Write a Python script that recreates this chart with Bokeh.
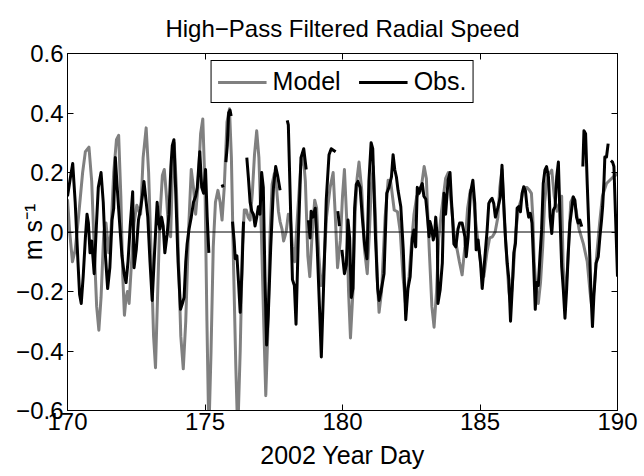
from bokeh.plotting import figure
from bokeh.models import Range1d, FixedTicker, LinearAxis, Span, Legend, LegendItem
from bokeh.embed import file_html
from bokeh.resources import INLINE

NaN = float("nan")

title_text = "High−Pass Filtered Radial Speed"
x_label = "2002 Year Day"
y_label = "m s⁻¹"
x_ticks = [170, 175, 180, 185, 190]
y_ticks = [-0.6, -0.4, -0.2, 0, 0.2, 0.4, 0.6]
y_tick_labels = ["−0.6", "−0.4", "−0.2", "0", "0.2", "0.4", "0.6"]
series_names = ["Model", "Obs."]

model_day = [
    170.00, 170.08, 170.18, 170.28, 170.40, 170.55, 170.65, 170.78, 170.88, 170.97,
    171.06, 171.14, 171.22, 171.32, 171.40, 171.50, 171.58, 171.68, 171.78, 171.86,
    171.94, 172.01, 172.07, 172.13, 172.18, 172.24, 172.33, 172.42, 172.52, 172.60,
    172.66, 172.75, 172.86, 172.95, 173.05, 173.13, 173.20, 173.28, 173.36, 173.45,
    173.52, 173.60, 173.68, 173.75, 173.80, 173.88, 173.96, 174.04, 174.12, 174.21,
    174.30, 174.40, 174.50, 174.58, 174.66, 174.74, 174.84, 174.92, 175.00, 175.07,
    175.14, 175.22, 175.30, 175.38, 175.47, 175.55, 175.62, 175.70, 175.80, 175.89,
    175.96, 176.03, 176.12, 176.19, 176.28, 176.36, 176.43, 176.50, 176.57, 176.64,
    176.72, 176.80, 176.88, 176.96, 177.05, 177.14, 177.21, 177.28, 177.36, 177.44,
    177.52, 177.60, 177.67, 177.73, 177.80, 177.86, 177.95, 178.03, 178.10, 178.18,
    178.26, 178.36, 178.48, 178.57, 178.65, 178.74, 178.81, 178.90, 178.99, 179.06,
    179.14, 179.22, 179.30, 179.42, 179.55, 179.66, 179.74, 179.82, 179.92, 180.00,
    180.07, 180.15, 180.22, 180.29, 180.38, 180.46, 180.53, 180.60, 180.70, 180.80,
    180.90, 180.98, 181.05, 181.12, 181.20, 181.26, 181.33, 181.42, 181.55, 181.66,
    181.75, 181.88, 182.00, 182.10, 182.20, 182.30, 182.42, 182.50, 182.60, 182.70,
    182.85, 182.97, 183.05, 183.15, 183.25, 183.33, 183.42, 183.50, 183.60, 183.75,
    183.85, 183.95, 184.05, 184.15, 184.25, 184.35, 184.45, 184.55, 184.65, 184.75,
    184.85, 184.95, 185.05, 185.14, 185.25, 185.35, 185.45, 185.55, 185.65, 185.72,
    185.80, 185.88, 185.98, 186.05, 186.11, 186.20, 186.30, 186.40, 186.50, 186.60,
    186.70, 186.80, 186.87, 186.92, 186.97, 187.05, 187.12, 187.20, 187.28, 187.35,
    187.45, 187.55, 187.61, 187.70, 187.80, 187.90, 187.97, 188.02, 188.09, 188.18,
    188.30, 188.39, 188.50, 188.60, 188.76, 188.90, 189.00, 189.06, 189.15, 189.25,
    189.35, 189.45, 189.60, 189.72, 189.84, 190.00,
]
model_speed = [
    0.11, 0.00, -0.10, -0.06, 0.05, 0.20, 0.27, 0.285, 0.17, -0.05,
    -0.25, -0.33, -0.22, 0.00, 0.03, -0.07, 0.00, 0.20, 0.31, 0.325,
    0.12, -0.15, -0.28, -0.22, -0.20, -0.24, -0.10, 0.03, 0.09, 0.07,
    0.06, 0.25, 0.35, 0.20, -0.10, -0.35, -0.456, -0.20, 0.05, 0.19,
    0.21, 0.12, 0.00, -0.016, 0.15, 0.30, 0.15, -0.10, -0.35, -0.46,
    -0.30, 0.00, 0.21, 0.15, 0.06, 0.15, 0.33, 0.38, 0.15, -0.30,
    -0.68, -0.40, -0.05, 0.10, 0.14, 0.10, 0.04, 0.15, 0.37, 0.414,
    0.25, -0.08, -0.45, -0.68, -0.40, -0.05, 0.074, 0.074, 0.05, 0.04,
    0.13, 0.26, 0.34, 0.25, 0.00, -0.32, -0.55, -0.35, -0.02, 0.16,
    0.196, 0.15, 0.07, 0.035, 0.01, -0.03, 0.00, 0.06, 0.05, -0.05,
    -0.10, 0.05, 0.22, 0.26, 0.17, -0.08, -0.15, 0.00, 0.107, 0.08,
    -0.08, -0.18, -0.15, 0.05, 0.15, 0.20, 0.05, -0.12, -0.03, 0.12,
    0.21, 0.05, -0.20, -0.356, -0.20, 0.06, 0.18, 0.235, 0.14, -0.06,
    -0.14, 0.00, 0.16, 0.22, 0.05, -0.15, -0.27, -0.20, 0.05, 0.174,
    0.17, 0.074, 0.068, 0.00, -0.15, -0.25, -0.15, -0.05, 0.06, 0.12,
    0.14, 0.22, 0.18, -0.05, -0.25, -0.32, -0.20, -0.02, 0.07, 0.18,
    0.20, 0.10, 0.00, -0.05, -0.10, -0.144, -0.05, 0.08, 0.14, 0.13,
    0.03, -0.05, -0.12, -0.15, -0.07, -0.02, -0.016, 0.00, 0.05, 0.15,
    0.21, 0.05, -0.10, -0.20, -0.24, -0.15, 0.00, 0.08, 0.11, 0.15,
    0.15, 0.14, 0.13, 0.05, -0.10, -0.20, -0.24, -0.17, -0.05, 0.10,
    0.19, 0.20, 0.208, 0.12, 0.07, 0.10, 0.12, -0.10, -0.24, -0.12,
    0.10, 0.118, 0.07, 0.01, -0.04, -0.10, -0.20, -0.25, -0.19, -0.07,
    0.03, 0.12, 0.163, 0.174, 0.185, 0.196,
]

obs_day = [
    170.00, 170.10, 170.19, 170.28, 170.38, 170.44, 170.50, 170.57, 170.65, 170.71,
    170.76, 170.82, 170.88, 170.97, 171.05, 171.12, 171.22, 171.30, 171.38, 171.46,
    171.54, 171.62, 171.68, 171.74, 171.80, 171.88, 171.98, 172.06, 172.13, 172.20,
    172.28, 172.37, 172.42, 172.50, 172.58, 172.66, 172.72, 172.78, 172.85, 172.92,
    173.00, 173.08, 173.17, 173.26, 173.32, 173.36, 173.42, 173.48, 173.54, 173.62,
    173.69, 173.76, 173.81, 173.87, 173.94, 174.02, 174.11, 174.18, 174.24, 174.30,
    174.35, 174.42, 174.50, 174.58, 174.66, 174.72, 174.81, 174.88, 174.95, 175.02,
    175.08, 175.14, NaN,
    175.62, 175.66, NaN,
    175.76, 175.81, 175.86, 175.91, 175.95, NaN,
    176.00, 176.06, 176.10, 176.16, 176.22, 176.28, 176.34, 176.40, NaN,
    176.52, 176.58, 176.64, 176.70, 176.76, 176.82, 176.88, 176.94, 177.00, 177.06,
    177.12, 177.18, 177.24, 177.30, 177.39, 177.49, 177.57, 177.64, 177.73, NaN,
    177.99, 178.03, 178.07, 178.13, 178.18, 178.25, 178.31, 178.39, 178.49, 178.59,
    178.68, NaN,
    178.76, 178.82, 178.86, 178.92, 179.01, 179.08, 179.17, 179.23, 179.31, 179.41,
    179.51, 179.59, 179.67, 179.75, NaN,
    179.83, 179.89, NaN,
    179.98, 180.07, 180.14, 180.20, 180.26, 180.32, 180.38, 180.44, 180.50, 180.56,
    180.64, 180.72, 180.80, 180.89, 180.96, 181.04, 181.10, 181.20, 181.28, 181.33,
    181.40, 181.51, 181.61, 181.69, 181.78, 181.84, 181.90, 181.96, 182.02, 182.12,
    182.21, 182.30, 182.38, 182.46, 182.54, 182.60, 182.66, 182.72, 182.78, 182.84,
    182.90, 182.96, 183.03, 183.09, 183.15, 183.18, 183.23, 183.30, 183.35, 183.39,
    183.45, 183.47, 183.55, 183.63, 183.69, 183.75, 183.84, 183.91, 183.96, 184.00,
    184.05, 184.12, 184.20, 184.26, 184.35, 184.45, 184.50, 184.57, 184.65, 184.74,
    184.81, 184.86, 184.93, 185.02, 185.08, 185.14, 185.20, 185.26, 185.32, 185.38,
    185.44, 185.50, 185.56, 185.66, 185.74, 185.80, 185.87, 185.93, 185.99, 186.05,
    186.11, 186.17, 186.23, 186.29, 186.35, 186.41, 186.47, 186.53, 186.59, 186.65,
    186.71, 186.77, 186.83, 186.89, 186.94, 187.01, 187.06, 187.12, 187.18, 187.24,
    187.30, 187.36, 187.42, 187.49, 187.55, 187.61, 187.67, 187.73, 187.79, 187.85,
    187.91, 187.97, 188.03, 188.09, 188.15, 188.21, 188.27, 188.33, 188.39, 188.45,
    188.51, 188.57, 188.63, 188.70, NaN,
    188.74, 188.78, 188.84, 188.90, 188.97, 189.03, 189.09, 189.14, 189.22, 189.30,
    189.36, 189.42, 189.46, 189.51, 189.54, 189.60, 189.66, NaN,
    189.76, 189.82, 189.87, 189.93, 190.00,
]
obs_speed = [
    0.12, 0.18, 0.23, 0.10, -0.10, -0.21, -0.24, -0.15, -0.02, 0.06,
    0.03, -0.07, -0.03, -0.14, 0.02, 0.15, 0.20, 0.10, -0.08, -0.19,
    -0.12, 0.04, 0.08, 0.25, 0.16, 0.05, -0.08, -0.14, -0.17, -0.10,
    0.02, 0.135, -0.12, -0.06, 0.04, 0.08, 0.12, 0.17, 0.11, 0.05,
    -0.10, -0.23, -0.06, 0.10, 0.03, 0.01, 0.05, 0.02, -0.07, -0.01,
    0.06, 0.22, 0.29, 0.31, 0.12, -0.10, -0.26, -0.24, -0.22, -0.10,
    -0.04, 0.01, 0.05, 0.10, 0.12, 0.15, 0.27, 0.15, 0.13, 0.21,
    0.05, -0.07, NaN,
    0.16, 0.15, NaN,
    0.235, 0.29, 0.40, 0.41, 0.39, NaN,
    0.035, -0.03, -0.09, -0.08, -0.17, -0.27, -0.14, 0.035, NaN,
    0.25, 0.18, 0.10, 0.07, 0.06, 0.02, 0.05, 0.085, 0.06, 0.20,
    0.15, -0.15, -0.38, -0.28, -0.05, 0.15, 0.22, 0.19, 0.14, NaN,
    0.375, 0.36, 0.22, 0.01, -0.16, -0.18, -0.31, -0.03, 0.25, 0.28,
    0.21, NaN,
    0.04, -0.02, 0.07, 0.05, 0.08, -0.05, -0.27, -0.42, -0.19, 0.11,
    0.26, 0.28, 0.275, 0.27, NaN,
    0.07, 0.02, NaN,
    -0.06, -0.14, -0.11, 0.04, -0.02, -0.22, -0.19, 0.08, 0.16, 0.17,
    0.15, 0.05, -0.04, -0.09, 0.17, 0.30, 0.28, -0.02, -0.19, -0.23,
    -0.20, -0.14, 0.13, 0.15, 0.185, 0.26, 0.21, 0.185, 0.14, 0.085,
    -0.06, -0.295, -0.19, -0.15, -0.02, 0.007, -0.05, 0.15, 0.13, 0.15,
    0.163, 0.12, 0.11, 0.05, -0.016, 0.035, 0.018, -0.027, -0.005, 0.05,
    -0.027, -0.24, -0.195, -0.105, 0.13, 0.06, 0.174, 0.20, 0.107, 0.05,
    -0.04, -0.05, 0.01, 0.03, 0.03, -0.016, -0.083, -0.016, 0.13, 0.174,
    0.096, -0.06, -0.027, -0.105, -0.19, -0.127, -0.06, 0.007, 0.096, 0.107,
    0.113, 0.096, 0.05, 0.085, 0.118, 0.224, 0.085, -0.027, -0.105, -0.16,
    -0.30, -0.194, -0.07, -0.038, 0.08, 0.085, 0.068, 0.13, 0.152, 0.14,
    0.085, 0.05, 0.063, 0.03, -0.083, -0.26, -0.17, -0.18, -0.083, 0.007,
    0.163, 0.208, 0.22, 0.185, 0.05, -0.005, 0.074, 0.085, 0.185, 0.235,
    0.05, -0.116, -0.194, -0.29, -0.194, -0.07, 0.03, 0.074, 0.118, 0.107,
    0.05, 0.03, 0.04, 0.018, NaN,
    0.22, 0.34, 0.33, 0.16, -0.016, -0.194, -0.318, -0.217, -0.105, -0.083,
    -0.016, 0.04, 0.085, 0.174, 0.252, 0.252, 0.297, NaN,
    0.24, 0.235, 0.22, 0.05, -0.15,
]

FONT = "Liberation Sans"
MODEL_COLOR = "#808080"
OBS_COLOR = "#000000"

p = figure(
    width=644, height=476, output_backend="svg", toolbar_location=None,
    x_range=Range1d(170, 190), y_range=Range1d(-0.6, 0.6),
    min_border_left=67, min_border_right=27, min_border_top=53, min_border_bottom=66,
    background_fill_color="white", border_fill_color="white",
)
p.xgrid.visible = False
p.ygrid.visible = False
p.outline_line_color = "black"
p.outline_line_alpha = 1.0
p.outline_line_width = 1

p.title.text = title_text
p.title.align = "center"
p.title.text_font = FONT
p.title.text_font_size = "24px"
p.title.text_font_style = "normal"
p.title.text_color = "black"
p.title.standoff = 23

ytick_overrides = {t: l for t, l in zip(y_ticks, y_tick_labels)}

def style_axis(ax, labels=True):
    ax.axis_line_color = "black"
    ax.major_tick_line_color = "black"
    ax.major_tick_in = 6
    ax.major_tick_out = 0
    ax.minor_tick_line_color = None
    ax.major_label_text_font = FONT
    ax.major_label_text_font_size = "24px"
    ax.major_label_text_color = "black" if labels else None
    ax.axis_label_text_font = FONT
    ax.axis_label_text_font_size = "25px"
    ax.axis_label_text_font_style = "normal"
    ax.axis_label_text_color = "black"

xa = p.xaxis[0]
xa.ticker = FixedTicker(ticks=x_ticks)
xa.axis_label = x_label
xa.major_label_standoff = 2
xa.axis_label_standoff = 8
style_axis(xa)

ya = p.yaxis[0]
ya.ticker = FixedTicker(ticks=y_ticks)
ya.major_label_overrides = ytick_overrides
ya.axis_label = y_label
ya.major_label_standoff = 4
ya.axis_label_standoff = -34
style_axis(ya)

top_ax = LinearAxis(ticker=FixedTicker(ticks=x_ticks))
style_axis(top_ax, labels=False)
top_ax.major_label_standoff = 0
p.add_layout(top_ax, "above")

right_ax = LinearAxis(ticker=FixedTicker(ticks=y_ticks))
style_axis(right_ax, labels=False)
right_ax.major_label_standoff = 0
p.add_layout(right_ax, "right")

p.add_layout(Span(location=0, dimension="width", line_color="black", line_width=1))

r_model = p.line(model_day, model_speed, line_color=MODEL_COLOR, line_width=3, line_join="round")
r_obs = p.line(obs_day, obs_speed, line_color=OBS_COLOR, line_width=3, line_join="round")

legend = Legend(
    items=[LegendItem(label=series_names[0], renderers=[r_model]),
           LegendItem(label=series_names[1], renderers=[r_obs])],
    orientation="horizontal", location="top_center",
    label_text_font=FONT, label_text_font_size="25px", label_text_color="black",
    border_line_color="black", border_line_width=1, border_line_alpha=1,
    background_fill_color="white", background_fill_alpha=1,
    padding=6, spacing=18, label_standoff=6, glyph_width=49, margin=7,
)
p.add_layout(legend)

open("out.html", "w").write(file_html(p, INLINE))
